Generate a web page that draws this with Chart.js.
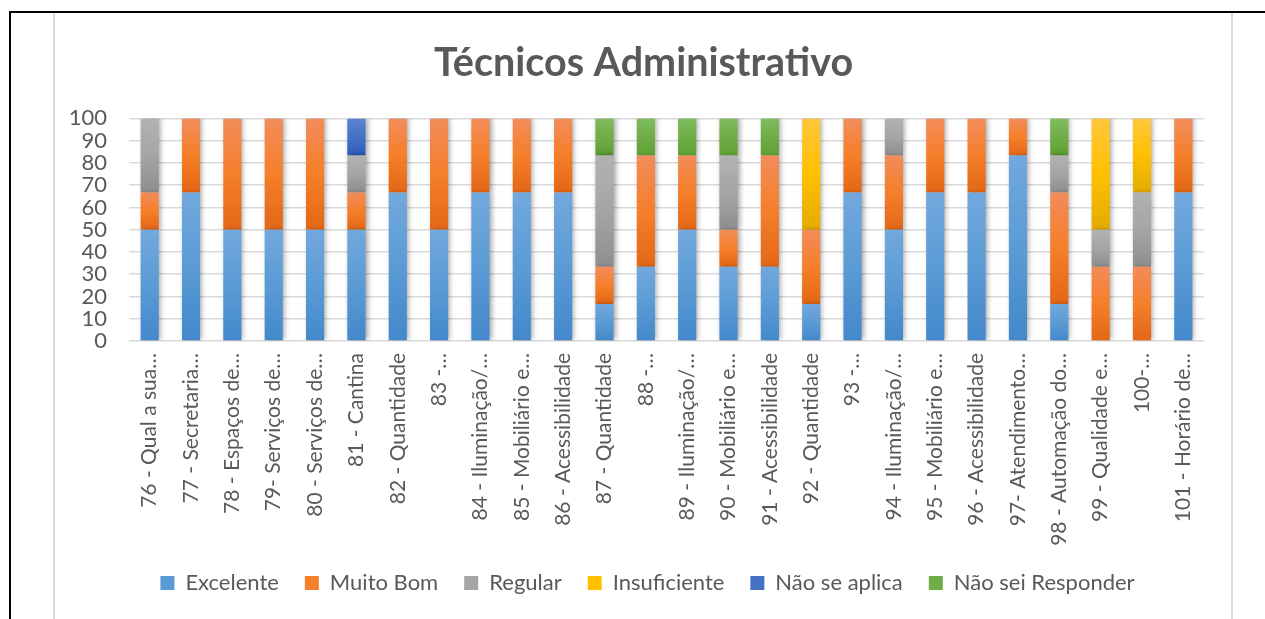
<!DOCTYPE html>
<html>
<head>
<meta charset="utf-8">
<script src="https://cdn.jsdelivr.net/npm/chart.js@4/dist/chart.umd.min.js"></script>
<style>
  html, body { margin: 0; padding: 0; background: #fff; overflow: hidden; }
  #frame { position: absolute; left: 9px; top: 11px; width: 1260px; height: 620px;
           border-top: 2px solid #000; border-left: 2px solid #000; }
  #box { position: absolute; left: 53px; top: 13px; width: 1176px; height: 606px;
         border-left: 2px solid #d9d9d9; border-right: 2px solid #d9d9d9; }
  #wrap { position: relative; width: 1176px; height: 606px; }
</style>
</head>
<body>
<div id="frame"></div>
<div id="box"><div id="wrap"><canvas id="chart"></canvas></div></div>
<script>
/* ================= DATA ================= */
const categories = [
  "76 - Qual a sua…", "77 - Secretaria…", "78 - Espaços de…", "79- Serviços de…",
  "80 - Serviços de…", "81 - Cantina", "82 - Quantidade", "83 -…",
  "84 - Iluminação/…", "85 - Mobiliário e…", "86 - Acessibilidade", "87 - Quantidade",
  "88 -…", "89 - Iluminação/…", "90 - Mobiliário e…", "91 - Acessibilidade",
  "92 - Quantidade", "93 -…", "94 - Iluminação/…", "95 - Mobiliário e…",
  "96 - Acessibilidade", "97- Atendimento…", "98 - Automação do…", "99 - Qualidade e…",
  "100-…", "101 - Horário de…"
];

const excelente    = [50, 66.67, 50, 50, 50, 50, 66.67, 50, 66.67, 66.67, 66.67, 16.67, 33.33,
                      50, 33.33, 33.33, 16.67, 66.67, 50, 66.67, 66.67, 83.33, 16.67, 0, 0, 66.67];
const muitoBom     = [16.67, 33.33, 50, 50, 50, 16.67, 33.33, 50, 33.33, 33.33, 33.33, 16.67, 50,
                      33.33, 16.67, 50, 33.33, 33.33, 33.33, 33.33, 33.33, 16.67, 50, 33.33, 33.33, 33.33];
const regular      = [33.33, 0, 0, 0, 0, 16.67, 0, 0, 0, 0, 0, 50, 0,
                      0, 33.33, 0, 0, 0, 16.67, 0, 0, 0, 16.67, 16.67, 33.33, 0];
const insuficiente = [0, 0, 0, 0, 0, 0, 0, 0, 0, 0, 0, 0, 0,
                      0, 0, 0, 50, 0, 0, 0, 0, 0, 0, 50, 33.33, 0];
const naoSeAplica  = [0, 0, 0, 0, 0, 16.67, 0, 0, 0, 0, 0, 0, 0,
                      0, 0, 0, 0, 0, 0, 0, 0, 0, 0, 0, 0, 0];
const naoSei       = [0, 0, 0, 0, 0, 0, 0, 0, 0, 0, 0, 16.67, 16.67,
                      16.67, 16.67, 16.67, 0, 0, 0, 0, 0, 0, 16.67, 0, 0, 0];

const yTicks = [0, 10, 20, 30, 40, 50, 60, 70, 80, 90, 100];

/* ================= STYLE ================= */
const TEXT = "#595959";
const FONT = "Lato, 'Open Sans', sans-serif";

const palette = {
  blue:   { top: "#72a8dd", mid: "#5b9bd5", bottom: "#4388cb" },
  orange: { top: "#f28c5b", mid: "#f57f2a", bottom: "#e36716" },
  gray:   { top: "#b2b2b2", mid: "#a5a5a5", bottom: "#8e8e8e" },
  yellow: { top: "#ffc63d", mid: "#ffc000", bottom: "#e2ab00" },
  navy:   { top: "#5b84d2", mid: "#4472c4", bottom: "#2e5dbe" },
  green:  { top: "#7fbc5d", mid: "#70ad47", bottom: "#5ea135" }
};

// vertical gradient for each stacked segment (lighter top, darker bottom)
function segmentFill(c) {
  return (context) => {
    if (context.type !== "data") return c.mid;
    const chart = context.chart;
    const yScale = chart.scales.y;
    if (!chart.chartArea || !yScale) return c.mid;
    const i = context.dataIndex;
    let start = 0;
    for (let k = 0; k < context.datasetIndex; k++) start += chart.data.datasets[k].data[i];
    const end = start + chart.data.datasets[context.datasetIndex].data[i];
    const top = yScale.getPixelForValue(end);
    const bottom = yScale.getPixelForValue(start);
    if (!(bottom > top)) return c.mid;
    const g = chart.ctx.createLinearGradient(0, top, 0, bottom);
    g.addColorStop(0, c.top);
    g.addColorStop(0.5, c.mid);
    g.addColorStop(1, c.bottom);
    return g;
  };
}

function series(label, data, c) {
  return {
    label: label,
    data: data,
    backgroundColor: segmentFill(c),
    legendColor: c.mid,
    borderWidth: 0,
    barPercentage: 0.44,
    categoryPercentage: 1
  };
}

// soft shadow on the right of the bars, like the Office chart
const barShadow = {
  id: "barShadow",
  beforeDatasetsDraw(chart) {
    const ctx = chart.ctx;
    ctx.save();
    ctx.shadowColor = "rgba(0,0,0,0.35)";
    ctx.shadowBlur = 5;
    ctx.shadowOffsetX = 2;
    ctx.shadowOffsetY = 0;
  },
  afterDatasetsDraw(chart) {
    chart.ctx.restore();
  }
};

// title and legend are centred on the whole box, not on the padded area
const recentre = {
  id: "recentre",
  afterLayout(chart) {
    chart.titleBlock.left += 14;
    chart.titleBlock.right += 14;
    chart.legend.left += 18;
    chart.legend.right += 18;
  }
};

/* ================= CHART ================= */
const ctx = document.getElementById("chart").getContext("2d");

new Chart(ctx, {
  type: "bar",
  data: {
    labels: categories,
    datasets: [
      series("Excelente", excelente, palette.blue),
      series("Muito Bom", muitoBom, palette.orange),
      series("Regular", regular, palette.gray),
      series("Insuficiente", insuficiente, palette.yellow),
      series("Não se aplica", naoSeAplica, palette.navy),
      series("Não sei Responder", naoSei, palette.green)
    ]
  },
  plugins: [barShadow, recentre],
  options: {
    responsive: true,
    maintainAspectRatio: false,
    animation: false,
    events: [],
    layout: { padding: { left: 0, right: 27, top: 0, bottom: 15 } },
    plugins: {
      title: {
        display: true,
        text: "Técnicos Administrativo",
        color: TEXT,
        font: { family: FONT, size: 39.5, weight: "bold" },
        padding: { top: 27, bottom: 31 }
      },
      legend: {
        position: "bottom",
        labels: {
          color: TEXT,
          font: { family: FONT, size: 22 },
          boxWidth: 14,
          boxHeight: 14,
          padding: 26,
          generateLabels(chart) {
            const items = Chart.defaults.plugins.legend.labels.generateLabels(chart);
            items.forEach((it) => {
              const c = chart.data.datasets[it.datasetIndex].legendColor;
              it.fillStyle = c;
              it.strokeStyle = c;
              it.lineWidth = 0;
            });
            return items;
          }
        }
      },
      tooltip: { enabled: false }
    },
    scales: {
      x: {
        stacked: true,
        grid: { display: false },
        border: { display: false },
        ticks: {
          color: TEXT,
          font: { family: FONT, size: 21 },
          minRotation: 90,
          maxRotation: 90,
          autoSkip: false,
          padding: 4
        },
        afterFit(scale) { scale.height = 205; }
      },
      y: {
        stacked: true,
        min: 0,
        max: 100,
        grid: { color: "#d9d9d9", lineWidth: 1.5, drawTicks: false },
        border: { display: false },
        afterBuildTicks(scale) { scale.ticks = yTicks.map((v) => ({ value: v })); },
        ticks: {
          color: TEXT,
          font: { family: FONT, size: 22 },
          autoSkip: false,
          padding: 22
        },
        afterFit(scale) { scale.width = 74; }
      }
    }
  }
});
</script>
</body>
</html>
